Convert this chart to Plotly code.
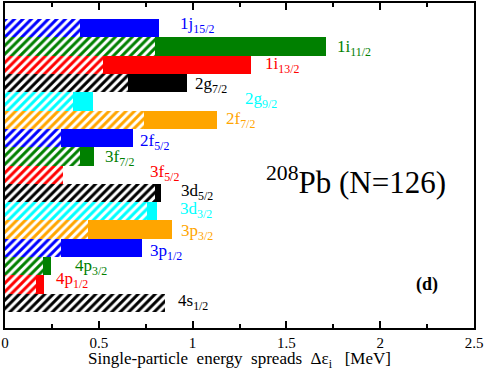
import plotly.graph_objects as go

levels = ["1j<sub>15/2</sub>", "1i<sub>11/2</sub>", "1i<sub>13/2</sub>", "2g<sub>7/2</sub>",
          "2g<sub>9/2</sub>", "2f<sub>7/2</sub>", "2f<sub>5/2</sub>", "3f<sub>7/2</sub>",
          "3f<sub>5/2</sub>", "3d<sub>5/2</sub>", "3d<sub>3/2</sub>", "3p<sub>3/2</sub>",
          "3p<sub>1/2</sub>", "4p<sub>3/2</sub>", "4p<sub>1/2</sub>", "4s<sub>1/2</sub>"]
spread_total = [0.82, 1.71, 1.31, 0.97, 0.47, 1.13, 0.68, 0.475, 0.31, 0.83, 0.81, 0.89, 0.73, 0.245, 0.21, 0.855]
spread_hatched = [0.40, 0.80, 0.52, 0.655, 0.36, 0.74, 0.30, 0.40, 0.31, 0.80, 0.755, 0.44, 0.30, 0.205, 0.165, 0.855]
colors = ["#0000ff", "#008000", "#ff0000", "#000000", "#00ffff", "#ffa500",
          "#0000ff", "#008000", "#ff0000", "#000000", "#00ffff", "#ffa500",
          "#0000ff", "#008000", "#ff0000", "#000000"]

# where each level name sits (x in MeV, y in bar units)
label_x = [0.92, 1.76, 1.375, 1.0, 1.27, 1.17, 0.71, 0.52, 0.76, 0.93, 0.92, 0.93, 0.76, 0.36, 0.26, 0.91]
label_y = [0.83, 2.08, 3.01, 4.10, 4.92, 6.02, 7.22, 8.09, 8.91, 9.95, 10.93, 12.13, 13.22, 14.04, 14.75, 15.96]

pos = list(range(1, len(levels) + 1))
FONT = "Liberation Serif, Times New Roman, serif"
NB = "\u00a0"


def main():
    fig = go.Figure()
    fig.add_trace(go.Bar(x=spread_total, y=pos, orientation="h", width=1,
                         marker=dict(color=colors, line_width=0), showlegend=False))
    fig.add_trace(go.Bar(x=spread_hatched, y=pos, orientation="h", width=1,
                         marker=dict(color="white", line_width=0,
                                     pattern=dict(shape="/", fgcolor=colors, bgcolor="white", fgopacity=1,
                                                  fillmode="overlay", size=6, solidity=0.5)),
                         showlegend=False))

    for name, x, y, c in zip(levels, label_x, label_y, colors):
        fig.add_annotation(x=x, y=y, text=name, showarrow=False, xanchor="left", yanchor="middle",
                           font=dict(family=FONT, size=17, color=c))

    fig.add_annotation(x=1.38, y=9.3, text="<sup>208</sup>Pb (N=126)", showarrow=False,
                       xanchor="left", yanchor="middle", font=dict(family=FONT, size=31, color="black"))
    fig.add_annotation(x=2.25, y=15.0, text="<b>(d)</b>", showarrow=False,
                       xanchor="center", yanchor="middle", font=dict(family=FONT, size=18, color="black"))

    fig.update_layout(
        width=485, height=371, barmode="overlay", bargap=0,
        margin=dict(l=5, r=11, t=3, b=43, autoexpand=False),
        plot_bgcolor="white", paper_bgcolor="white",
        font=dict(family=FONT, size=16, color="black"),
        xaxis=dict(range=[0, 2.5], tickvals=[0, 0.5, 1, 1.5, 2, 2.5], ticktext=["0", "0.5", "1", "1.5", "2", "2.5"],
                   ticks="inside", ticklen=7, tickwidth=2, tickcolor="black", automargin=False,
                   tickfont=dict(family=FONT, size=15),
                   minor=dict(dtick=0.25, ticks="inside", ticklen=4, tickwidth=2, tickcolor="black"),
                   showline=True, linewidth=2, linecolor="black", mirror="ticks",
                   showgrid=False, zeroline=False,
                   title=dict(text=f"Single-particle{NB} energy{NB} spreads{NB} Δε<sub>i</sub>{NB}{NB} [MeV]",
                              standoff=1, font=dict(family=FONT, size=17))),
        yaxis=dict(range=[17.37, -0.37], showticklabels=False, ticks="", automargin=False,
                   showline=True, linewidth=2, linecolor="black", mirror=True,
                   showgrid=False, zeroline=False),
    )
    fig.write_html("out.html", config={"displayModeBar": False},
                   post_script="document.body.style.margin='0';")


if __name__ == "__main__":
    main()
